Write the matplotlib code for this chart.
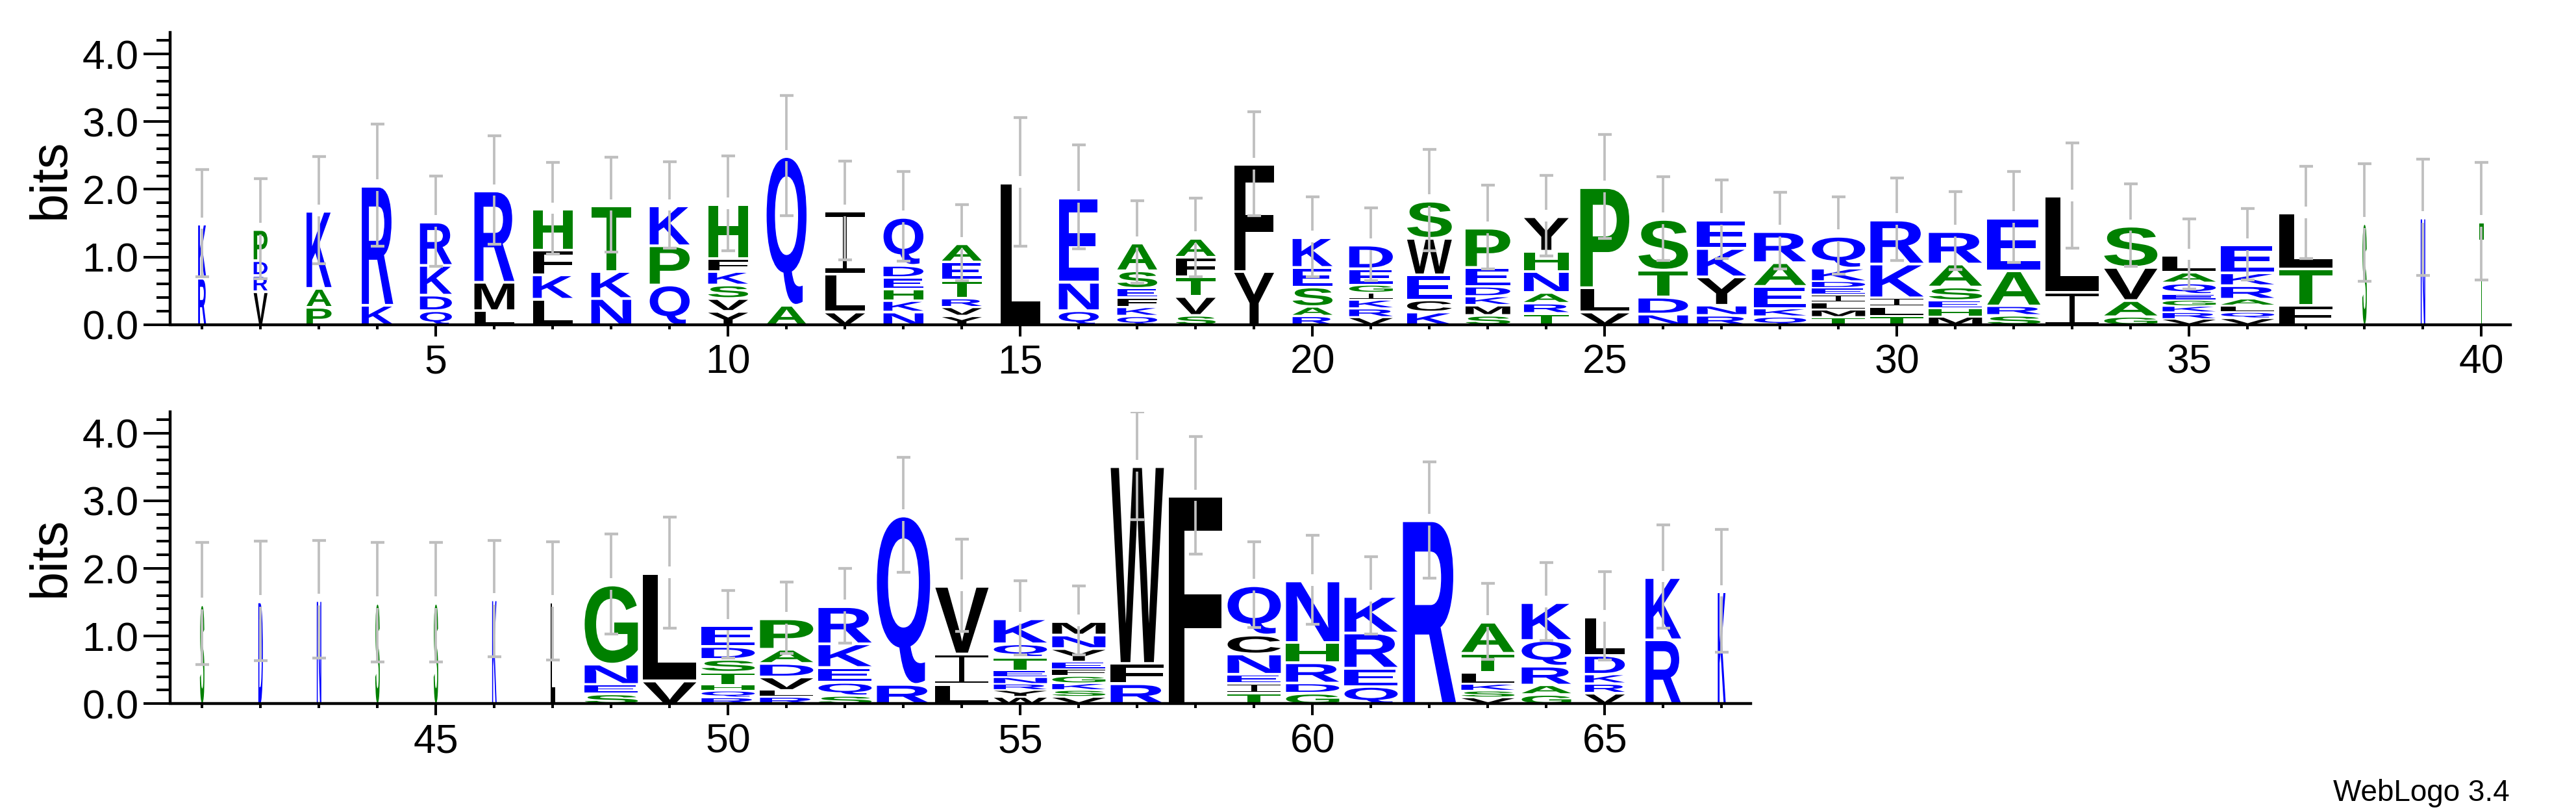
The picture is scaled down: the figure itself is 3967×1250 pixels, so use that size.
import matplotlib
matplotlib.use('Agg')
import matplotlib.pyplot as plt
from matplotlib.textpath import TextPath
from matplotlib.font_manager import FontProperties
from matplotlib.patches import PathPatch
from matplotlib.path import Path
from matplotlib.transforms import Affine2D, Bbox
from matplotlib.ticker import FixedLocator

# ---------------- data ----------------
positions = list(range(1, 68))

# letters of each stack, listed from top to bottom
stack_letters = [
    "KR", "PDRV", "KAP", "RK", "RKDQ", "RML", "HFKL", "TKN", "KPQ", "HFKSVY",
    "QA", "ILV", "QDEHKN", "AETRVY", "L", "ENQ", "ASEFKQ", "AFTVS", "FY", "KESAR",
    "DEGIKRV", "SWECK", "PEDKMS", "YHNART", "PLV", "STDN", "EKYNR", "RAEKQ", "QKDEILMT", "RKILT",
    "RASEHM", "EARS", "LI", "SVAG", "LAQEGKRV", "EKRALQV", "LTF", "S", "N", "T",
    "S", "D", "N", "S", "S", "K", "L", "GNES", "LV", "EDSTHQR",
    "PADVLR", "RKEQS", "QR", "VIL", "KQTENRYW", "MNYEFGKSV", "WFR", "F", "QCNEIT", "NHRDG",
    "KREQ", "R", "ATLKSV", "KQRAG", "LDKRV", "KR", "K",
]

# information (bits) of each letter, same order as stack_letters
stack_bits = [
    [0.80, 0.70], [0.46, 0.22, 0.24, 0.50], [1.14, 0.28, 0.27], [1.76, 0.30],
    [0.64, 0.44, 0.23, 0.22], [1.35, 0.42, 0.22], [0.60, 0.37, 0.36, 0.39],
    [0.97, 0.40, 0.40], [0.59, 0.58, 0.60], [0.80, 0.19, 0.20, 0.20, 0.19, 0.21],
    [2.20, 0.30], [0.93, 0.56, 0.20], [0.71, 0.18, 0.17, 0.17, 0.17, 0.20],
    [0.27, 0.27, 0.27, 0.13, 0.13, 0.14], [2.11], [1.25, 0.42, 0.22],
    [0.41, 0.26, 0.14, 0.14, 0.13, 0.14], [0.28, 0.29, 0.29, 0.28, 0.15], [1.58, 0.80],
    [0.44, 0.29, 0.29, 0.14, 0.14],
    [0.35, 0.24, 0.12, 0.10, 0.13, 0.13, 0.12], [0.55, 0.54, 0.37, 0.18, 0.20],
    [0.58, 0.28, 0.15, 0.13, 0.15, 0.15], [0.51, 0.30, 0.31, 0.16, 0.15, 0.18],
    [1.48, 0.36, 0.20], [0.75, 0.40, 0.25, 0.17], [0.42, 0.42, 0.42, 0.15, 0.15],
    [0.46, 0.35, 0.33, 0.12, 0.13], [0.47, 0.20, 0.10, 0.10, 0.11, 0.11, 0.11, 0.12],
    [0.65, 0.50, 0.13, 0.14, 0.14],
    [0.48, 0.34, 0.20, 0.12, 0.12, 0.13], [0.78, 0.52, 0.14, 0.15], [1.42, 0.49],
    [0.61, 0.49, 0.24, 0.13], [0.25, 0.16, 0.17, 0.09, 0.09, 0.09, 0.10, 0.09],
    [0.41, 0.19, 0.20, 0.10, 0.10, 0.09, 0.10], [0.82, 0.54, 0.30], [1.51], [1.59], [1.53],
    [1.48], [1.52], [1.54], [1.50], [1.50], [1.55], [1.52], [1.17, 0.30, 0.14, 0.16],
    [1.59, 0.35], [0.31, 0.19, 0.19, 0.19, 0.09, 0.10, 0.10],
    [0.45, 0.21, 0.20, 0.20, 0.10, 0.11], [0.55, 0.35, 0.22, 0.20, 0.13], [2.49, 0.30],
    [1.00, 0.45, 0.30], [0.37, 0.20, 0.20, 0.10, 0.10, 0.09, 0.10, 0.11],
    [0.20, 0.20, 0.20, 0.11, 0.10, 0.11, 0.10, 0.10, 0.11], [2.91, 0.30, 0.31], [3.08],
    [0.73, 0.28, 0.30, 0.14, 0.14, 0.17], [0.91, 0.30, 0.30, 0.15, 0.17],
    [0.54, 0.52, 0.27, 0.27], [2.72], [0.46, 0.28, 0.18, 0.10, 0.10, 0.10],
    [0.56, 0.38, 0.28, 0.14, 0.15], [0.57, 0.28, 0.14, 0.14, 0.17], [0.92, 0.96], [1.67],
]

# half-height of the error bar (bits)
error_bits = [
    0.79, 0.74, 0.79, 0.90, 0.67, 0.80, 0.68, 0.70, 0.64, 0.70,
    0.89, 0.73, 0.66, 0.56, 0.95, 0.77, 0.61, 0.58, 0.77, 0.59,
    0.54, 0.75, 0.62, 0.60, 0.77, 0.62, 0.58, 0.57, 0.57, 0.61,
    0.58, 0.67, 0.78, 0.61, 0.52, 0.53, 0.68, 0.87, 0.86, 0.87,
    0.90, 0.88, 0.87, 0.88, 0.88, 0.86, 0.87, 0.74, 0.82, 0.50,
    0.53, 0.55, 0.85, 0.68, 0.55, 0.51, 0.80, 0.87, 0.63, 0.66,
    0.57, 0.86, 0.56, 0.58, 0.65, 0.76, 0.91,
]

# relative stack width (fraction of non-gap sequences)
width_frac = (
    [0.15, 0.26, 0.47, 0.59, 0.60] + [0.75] * 15 + [0.82, 0.84, 0.84, 0.84]
    + [0.92, 0.93, 0.93, 0.98] + [1.0] * 9 + [0.085] * 10 + [1.0] * 16
    + [0.93, 0.75, 0.67, 0.15]
)

rows = [(1, 40), (41, 67)]
row_major_ticks = [[5, 10, 15, 20, 25, 30, 35, 40], [45, 50, 55, 60, 65]]
y_major = [0, 1, 2, 3, 4]
y_labels = ["0.0", "1.0", "2.0", "3.0", "4.0"]
y_minor = [v / 5 for v in range(0, 22) if v % 5 != 0]

color_groups = {"RKDENQ": "#0000ff", "SGHTAP": "#008000", "YVMCLFIW": "#000000"}

# ---------------- style ----------------
plt.rcParams['font.family'] = ['Liberation Sans', 'DejaVu Sans']
FULL_W = 0.91
ERR_COLOR = "#bfbfbf"

fig = plt.figure(figsize=(39.67, 12.5), dpi=100)
ax_top = fig.add_axes([0.06713, 0.6003, 0.9075, 0.3598])
ax_bot = fig.add_axes([0.06713, 0.1334, 0.6126, 0.3598])

glyph_font = FontProperties(family='Liberation Sans', weight='bold')
glyph_cache = {}

# serif "I" (I-beam) as drawn by WebLogo
_t, _s = 0.07, 0.05
_ibeam = Path([(0, 0), (1, 0), (1, _t), (0.5 + _s, _t), (0.5 + _s, 1 - _t), (1, 1 - _t),
               (1, 1), (0, 1), (0, 1 - _t), (0.5 - _s, 1 - _t), (0.5 - _s, _t), (0, _t),
               (0, 0)], closed=True)
glyph_cache['I'] = (_ibeam, Bbox([[0, 0], [1, 1]]))


def letter_color(ch):
    for group, col in color_groups.items():
        if ch in group:
            return col
    return "#000000"


def draw_letter(ax, ch, xc, y0, w, h):
    if ch not in glyph_cache:
        tp = TextPath((0, 0), ch, size=1, prop=glyph_font)
        glyph_cache[ch] = (tp, tp.get_extents())
    tp, ext = glyph_cache[ch]
    tr = (Affine2D().translate(-ext.x0, -ext.y0)
          .scale(w / ext.width, h / ext.height)
          .translate(xc - w / 2, y0))
    patch = PathPatch(tr.transform_path(tp), facecolor=letter_color(ch),
                      edgecolor='none', lw=0, zorder=2)
    ax.add_patch(patch)


for ax, (start, end), majors in zip([ax_top, ax_bot], rows, row_major_ticks):
    for p in range(start, end + 1):
        i = p - 1
        letters = stack_letters[i]
        bits = stack_bits[i]
        w = FULL_W * width_frac[i]
        y = 0.0
        # draw from bottom to top
        for ch, h in zip(reversed(letters), reversed(bits)):
            gap = min(0.04, 0.25 * h)
            draw_letter(ax, ch, p, y + 0.005, w, h - gap)
            y += h
        top = y
        err = error_bits[i]
        g = 0.085
        cap = 0.115
        ax.plot([p, p], [top + g, top + err], color=ERR_COLOR, lw=2.7,
                solid_capstyle='butt', zorder=3)
        ax.plot([p, p], [top - g, top - err], color=ERR_COLOR, lw=2.7,
                solid_capstyle='butt', zorder=3)
        for yy in (top + err, top - err):
            ax.plot([p - cap, p + cap], [yy, yy], color=ERR_COLOR, lw=3.1,
                    solid_capstyle='butt', zorder=3)

    ax.set_xlim(start - 0.5, end + 0.5)
    ax.set_ylim(0, 4.32)
    for s in ('top', 'right'):
        ax.spines[s].set_visible(False)
    ax.spines['left'].set_linewidth(3.2)
    ax.spines['bottom'].set_linewidth(3.2)
    ax.spines['left'].set_position(('outward', 3.3))

    ax.xaxis.set_major_locator(FixedLocator(majors))
    ax.xaxis.set_minor_locator(FixedLocator(list(range(start, end + 1))))
    ax.set_xticklabels([str(m) for m in majors])
    ax.yaxis.set_major_locator(FixedLocator(y_major))
    ax.set_yticklabels(y_labels)
    ax.yaxis.set_minor_locator(FixedLocator(y_minor))

    ax.tick_params(axis='x', which='major', direction='out', length=13, width=2.9,
                   labelsize=45, pad=8)
    ax.tick_params(axis='x', which='minor', direction='out', length=5, width=2.9)
    ax.tick_params(axis='y', which='major', direction='out', length=29.5, width=2.9,
                   labelsize=45, pad=5)
    ax.tick_params(axis='y', which='minor', direction='out', length=15, width=2.9)
    ax.set_facecolor('none')

fig.text(0.0197, 0.78, "bits", rotation=90, ha='center', va='center', fontsize=57)
fig.text(0.0197, 0.3144, "bits", rotation=90, ha='center', va='center', fontsize=57)
fig.text(0.9743, 0.0136, "WebLogo 3.4", ha='right', va='baseline', fontsize=33)

fig.savefig("out.png", dpi=100)
